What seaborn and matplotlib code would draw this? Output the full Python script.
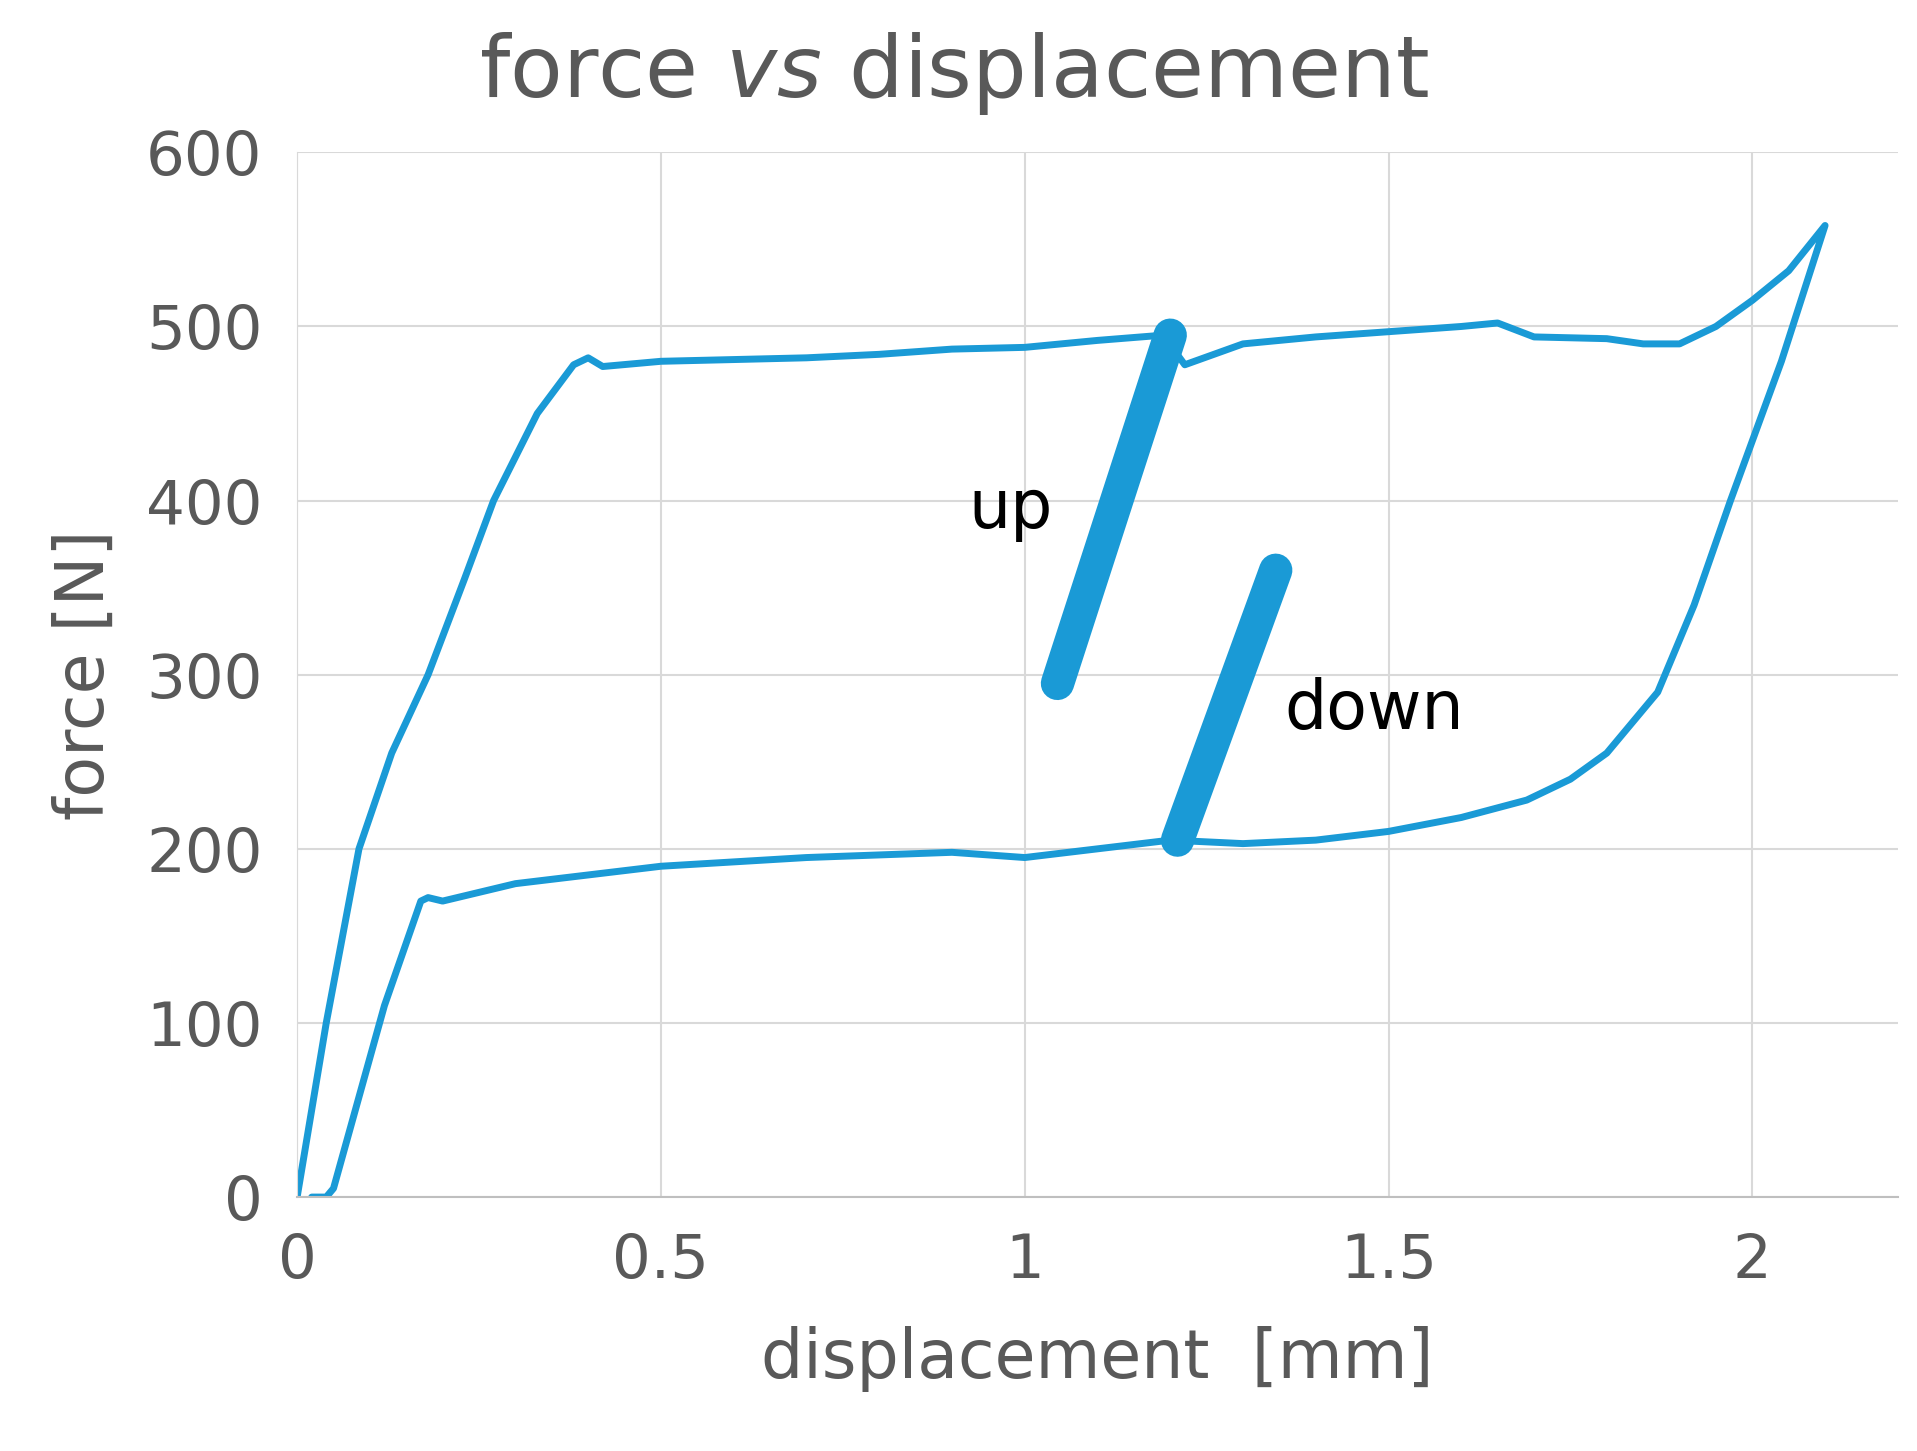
import numpy as np
import pandas as pd
import seaborn as sns
import matplotlib.pyplot as plt

# loading branch
load_x = [0, 0.04, 0.085, 0.13, 0.18, 0.23, 0.27, 0.33, 0.38, 0.4, 0.42, 0.5, 0.6, 0.7, 0.8, 0.9, 1.0,
          1.1, 1.19, 1.22, 1.3, 1.4, 1.5, 1.6, 1.65, 1.7, 1.8, 1.85, 1.9, 1.95, 2.0, 2.05, 2.1]
load_y = [0, 100, 200, 255, 300, 355, 400, 450, 478, 482, 477, 480, 481, 482, 484, 487, 488,
          492, 495, 478, 490, 494, 497, 500, 502, 494, 493, 490, 490, 500, 515, 532, 558]
# unloading branch
unload_x = [2.1, 2.04, 1.97, 1.92, 1.87, 1.8, 1.75, 1.69, 1.6, 1.5, 1.4, 1.3, 1.2, 1.1, 1.0,
            0.9, 0.7, 0.5, 0.4, 0.3, 0.2, 0.18, 0.17, 0.12, 0.08, 0.05, 0.04, 0.02]
unload_y = [558, 480, 400, 340, 290, 255, 240, 228, 218, 210, 205, 203, 205, 200, 195,
            198, 195, 190, 185, 180, 170, 172, 170, 110, 50, 5, 0, 0]
# thick "up" / "down" marks
up_x = [1.045, 1.2]
up_y = [295, 495]
down_x = [1.21, 1.345]
down_y = [205, 360]

blue = "#1a9ad6"
grey = "#595959"

sns.set_style("white")
fig, ax = plt.subplots(figsize=(19.17, 14.51), dpi=100)

df = pd.DataFrame({"x": load_x + unload_x, "y": load_y + unload_y})
sns.lineplot(data=df, x="x", y="y", sort=False, estimator=None, color=blue, lw=5, ax=ax)
sns.lineplot(x=up_x, y=up_y, sort=False, estimator=None, color=blue, lw=24, ax=ax)
sns.lineplot(x=down_x, y=down_y, sort=False, estimator=None, color=blue, lw=24, ax=ax)

ax.text(0.98, 395, "up", fontsize=48, color="black", ha="center", va="center")
ax.text(1.48, 280, "down", fontsize=48, color="black", ha="center", va="center")

ax.set_xlim(0, 2.2)
ax.set_ylim(0, 600)
ax.set_xticks([0, 0.5, 1, 1.5, 2])
ax.set_xticklabels(["0", "0.5", "1", "1.5", "2"])
ax.set_yticks(range(0, 601, 100))
ax.grid(True, color="#d9d9d9", lw=1.5)
for s in ["top", "right"]:
    ax.spines[s].set_visible(False)
ax.spines["left"].set_color("#d9d9d9")
ax.spines["bottom"].set_color("#bfbfbf")
ax.spines["bottom"].set_linewidth(1.5)
ax.tick_params(labelsize=44, colors=grey, length=0, pad=25)
ax.set_xlabel("displacement  [mm]", fontsize=48, color=grey, labelpad=25)
ax.set_ylabel("force [N]", fontsize=48, color=grey, labelpad=20)
ax.set_title(r"force $\it{vs}$ displacement", fontsize=62, color=grey, pad=40, x=0.41)

fig.subplots_adjust(left=0.155, right=0.99, top=0.895, bottom=0.175)
fig.savefig("out.png", dpi=100)
